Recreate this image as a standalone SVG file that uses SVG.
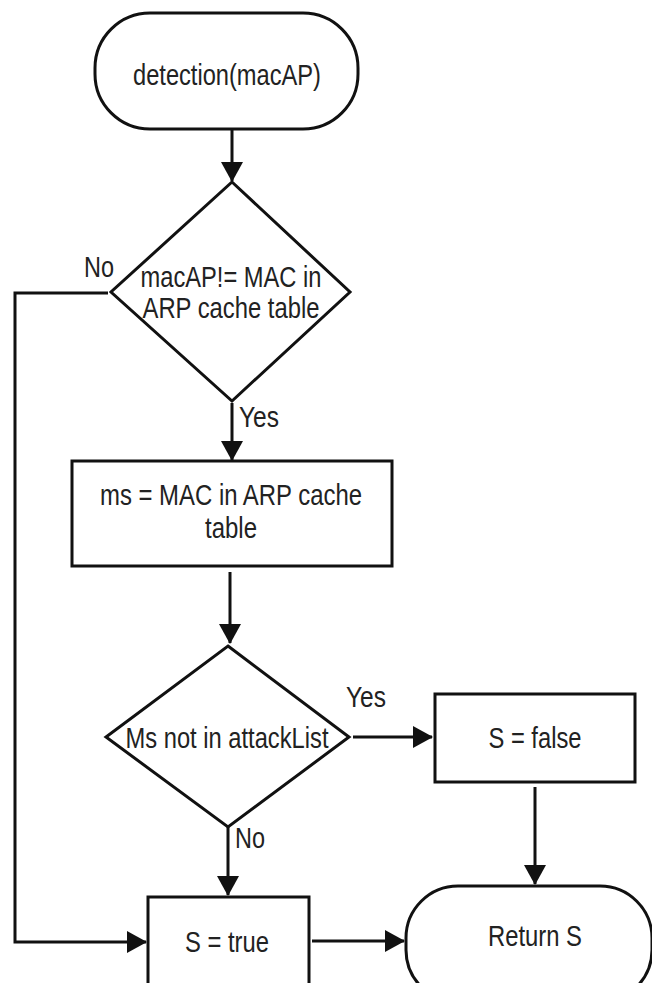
<svg xmlns="http://www.w3.org/2000/svg" width="652" height="983" viewBox="0 0 652 983">
<defs>
<style>
.shape{fill:#fff;stroke:#111;stroke-width:3}
.edge{fill:none;stroke:#111;stroke-width:3}
text{font-family:"Liberation Sans",Arial,sans-serif;font-size:29px;fill:#222}
.c{text-anchor:middle}
</style>
<marker id="ah" markerUnits="userSpaceOnUse" markerWidth="20" markerHeight="24" refX="19" refY="11" orient="auto">
<path d="M0,0 L20,11 L0,22 z" fill="#111"/>
</marker>
</defs>
<rect width="652" height="983" fill="#fff"/>
<g id="connectors">
<path class="edge" d="M232,130 L232,181" marker-end="url(#ah)"/>
<path class="edge" d="M232,403 L232,460" marker-end="url(#ah)"/>
<path class="edge" d="M230,572 L230,643" marker-end="url(#ah)"/>
<path class="edge" d="M353,737 L432,737" marker-end="url(#ah)"/>
<path class="edge" d="M228,826 L228,895" marker-end="url(#ah)"/>
<path class="edge" d="M535,787 L535,884" marker-end="url(#ah)"/>
<path class="edge" d="M108,293 L15,293 L15,942 L146,942" marker-end="url(#ah)"/>
<path class="edge" d="M312,941 L404,941" marker-end="url(#ah)"/>
<text x="84" y="277" textLength="30" lengthAdjust="spacingAndGlyphs">No</text>
<text x="239" y="427" textLength="40" lengthAdjust="spacingAndGlyphs">Yes</text>
<text x="346" y="707" textLength="40" lengthAdjust="spacingAndGlyphs">Yes</text>
<text x="235" y="848" textLength="30" lengthAdjust="spacingAndGlyphs">No</text>
</g>
<g id="start">
<rect class="shape" x="95" y="13" width="263" height="116" rx="55" ry="55"/>
<text class="c" x="227" y="85" textLength="188" lengthAdjust="spacingAndGlyphs">detection(macAP)</text>
</g>
<g id="check-mac">
<polygon class="shape" points="232,182 350,292 232,401 111,292"/>
<text class="c" x="231" y="287" textLength="181" lengthAdjust="spacingAndGlyphs">macAP!= MAC in</text>
<text class="c" x="231" y="318" textLength="177" lengthAdjust="spacingAndGlyphs">ARP cache table</text>
</g>
<g id="assign-ms">
<rect class="shape" x="72" y="461" width="320" height="105"/>
<text class="c" x="231" y="505" textLength="262" lengthAdjust="spacingAndGlyphs">ms = MAC in ARP cache</text>
<text class="c" x="231" y="538" textLength="52" lengthAdjust="spacingAndGlyphs">table</text>
</g>
<g id="check-attack">
<polygon class="shape" points="228,646 349,737 228,827 106,737"/>
<text class="c" x="227" y="748" textLength="203" lengthAdjust="spacingAndGlyphs">Ms not in attackList</text>
</g>
<g id="s-false">
<rect class="shape" x="435" y="694" width="200" height="88"/>
<text class="c" x="535" y="748" textLength="93" lengthAdjust="spacingAndGlyphs">S = false</text>
</g>
<g id="s-true">
<rect class="shape" x="148" y="897" width="161" height="92"/>
<text class="c" x="227" y="952" textLength="84" lengthAdjust="spacingAndGlyphs">S = true</text>
</g>
<g id="return">
<rect class="shape" x="406" y="886" width="246" height="116" rx="52" ry="52"/>
<text class="c" x="535" y="946" textLength="94" lengthAdjust="spacingAndGlyphs">Return S</text>
</g>
</svg>
